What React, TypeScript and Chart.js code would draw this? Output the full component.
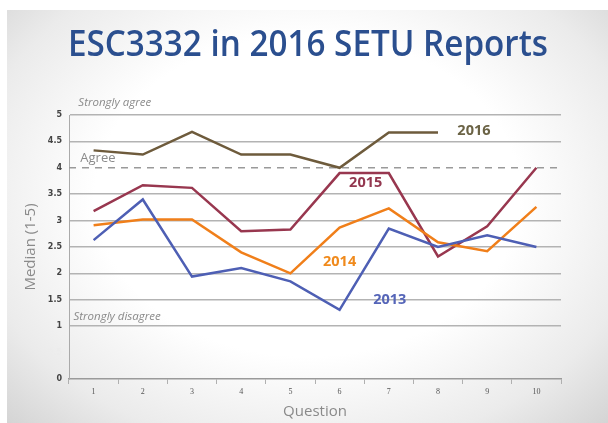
import React, { useEffect, useRef } from "react";
import { Chart, registerables } from "chart.js";

Chart.register(...registerables);

const categories = ["1", "2", "3", "4", "5", "6", "7", "8", "9", "10"];
const s2013 = [2.63, 3.4, 1.94, 2.1, 1.85, 1.31, 2.85, 2.5, 2.72, 2.5];
const s2014 = [2.91, 3.02, 3.02, 2.4, 2.0, 2.87, 3.23, 2.59, 2.42, 3.26];
const s2015 = [3.18, 3.67, 3.62, 2.8, 2.83, 3.9, 3.9, 2.32, 2.89, 4.0];
const s2016 = [4.33, 4.25, 4.68, 4.25, 4.25, 4.0, 4.67, 4.67, null, null];
const yTicks = [0, 0.5, 1, 1.5, 2, 2.5, 3, 3.5, 4, 4.5, 5];
const titleText = "ESC3332 in 2016 SETU Reports";

// annotation labels in data units (category index, value)
const yearLabels = [
  { text: "2016", x: 7.73, y: 4.7, color: "#6b6345" },
  { text: "2015", x: 5.53, y: 3.71, color: "#93374f" },
  { text: "2014", x: 5.0, y: 2.22, color: "#f08a1c" },
  { text: "2013", x: 6.02, y: 1.5, color: "#5565b8" },
];
const zoneLabels = [
  { text: "Strongly agree", x: -0.31, y: 5.23, italic: true, size: 11.5 },
  { text: "Agree", x: -0.27, y: 4.18, italic: false, size: 13 },
  { text: "Strongly disagree", x: -0.41, y: 1.18, italic: true, size: 11.5 },
];

const overlayPlugin = {
  id: "overlay",
  beforeDatasetsDraw(chart: any) {
    const { ctx, chartArea, scales } = chart;
    const y4 = scales.y.getPixelForValue(4);
    ctx.save();
    ctx.strokeStyle = "#9a9a9a";
    ctx.lineWidth = 1.5;
    ctx.setLineDash([7, 6]);
    ctx.beginPath();
    ctx.moveTo(chartArea.left, y4);
    ctx.lineTo(chartArea.right, y4);
    ctx.stroke();
    ctx.restore();
  },
  afterDatasetsDraw(chart: any) {
    const { ctx, scales } = chart;
    ctx.save();
    // title
    ctx.fillStyle = "#2b4f8f";
    ctx.textAlign = "center";
    ctx.textBaseline = "middle";
    ctx.font = "600 36px 'Open Sans', sans-serif";
    const w = ctx.measureText(titleText).width;
    const target = 480;
    ctx.save();
    ctx.translate(308, 46);
    ctx.scale(target / w, 1);
    ctx.fillText(titleText, 0, 0);
    ctx.restore();

    for (const l of yearLabels) {
      ctx.font = "bold 14.5px 'Open Sans', sans-serif";
      ctx.fillStyle = l.color;
      ctx.textAlign = "center";
      ctx.textBaseline = "middle";
      ctx.fillText(l.text, scales.x.getPixelForValue(l.x), scales.y.getPixelForValue(l.y));
    }
    for (const l of zoneLabels) {
      ctx.font = (l.italic ? "italic " : "") + l.size + "px 'Open Sans', sans-serif";
      ctx.fillStyle = "#8a8a8a";
      ctx.textAlign = "left";
      ctx.textBaseline = "middle";
      ctx.fillText(l.text, scales.x.getPixelForValue(l.x), scales.y.getPixelForValue(l.y));
    }
    ctx.restore();
  },
};

export default function App() {
  const ref = useRef<HTMLCanvasElement>(null);
  useEffect(() => {
    if (!ref.current) return;
    const mk = (label: string, data: any[], color: string) => ({
      label,
      data,
      borderColor: color,
      backgroundColor: color,
      borderWidth: 2.5,
      pointRadius: 0,
      tension: 0,
      spanGaps: false,
    });
    const chart = new Chart(ref.current, {
      type: "line",
      data: {
        labels: categories,
        datasets: [
          mk("2013", s2013, "#4e5fb4"),
          mk("2014", s2014, "#f07f1a"),
          mk("2015", s2015, "#98374f"),
          mk("2016", s2016, "#6e5b3c"),
        ],
      },
      options: {
        animation: false,
        responsive: false,
        devicePixelRatio: 1,
        layout: { padding: { left: 8, right: 47, top: 115, bottom: 2 } },
        plugins: { legend: { display: false }, tooltip: { enabled: false }, title: { display: false } },
        scales: {
          x: {
            offset: true,
            afterFit: (s: any) => { s.height = 42; },
            border: { display: true, color: "#9a9a9a", width: 1.5 },
            grid: { drawOnChartArea: false, drawTicks: true, tickLength: 5, color: "#b0b0b0", offset: true },
            ticks: { color: "#555", font: { family: "'Liberation Serif', serif", size: 8 }, padding: 3 },
            title: { display: true, text: "Question", color: "#8a8a8a", font: { family: "'Open Sans', sans-serif", size: 15 }, padding: { top: 0, bottom: 0 } },
          },
          y: {
            min: 0,
            max: 5,
            afterFit: (s: any) => { s.width = 61; },
            afterBuildTicks: (s: any) => { s.ticks = yTicks.map((v) => ({ value: v })); },
            border: { display: true, color: "#aaaaaa", width: 1 },
            grid: {
              drawTicks: false,
              lineWidth: 1.6,
              color: (c: any) => {
                const v = c.tick ? c.tick.value : null;
                return v === 0 || v === 0.5 || v === 4 ? "rgba(0,0,0,0)" : "#b3b3b3";
              },
            },
            ticks: {
              padding: 7,
              color: (c: any) => (c.tick && c.tick.value === 0.5 ? "#ececec" : "#444"),
              font: { family: "'DejaVu Sans', sans-serif", size: 8, weight: "bold" },
              callback: (v: any) => String(v),
            },
            title: { display: true, text: "Median (1-5)", color: "#8a8a8a", font: { family: "'Open Sans', sans-serif", size: 15 }, padding: { top: 14, bottom: 0 } },
          },
        },
      },
      plugins: [overlayPlugin],
    } as any);
    return () => chart.destroy();
  }, []);
  return (
    <div style={{ position: "fixed", left: 0, top: 0, width: 608, height: 423, background: "#fff" }}>
      <div
        style={{
          position: "absolute",
          left: 7,
          top: 10,
          width: 601,
          height: 413,
          background: "radial-gradient(ellipse at 50% 45%, #ffffff 50%, #ebebeb 80%, #d4d4d4 100%)",
        }}
      />
      <canvas ref={ref} width={608} height={423} style={{ position: "absolute", left: 0, top: 0 }} />
    </div>
  );
}
